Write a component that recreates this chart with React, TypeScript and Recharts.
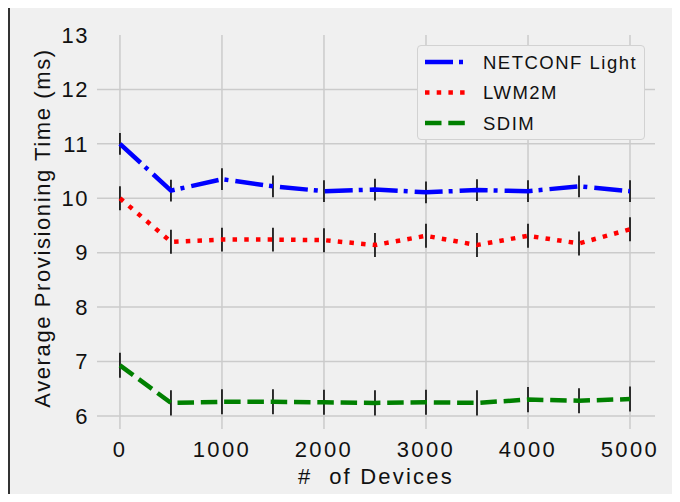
import { LineChart, Line, XAxis, YAxis, CartesianGrid, ErrorBar } from 'recharts'

const devices = [0, 500, 1000, 1500, 2000, 2500, 3000, 3500, 4000, 4500, 5000]
const netconfLight = [11.0, 10.14, 10.35, 10.22, 10.13, 10.16, 10.11, 10.15, 10.13, 10.22, 10.13]
const netconfErr = [0.2, 0.2, 0.2, 0.2, 0.2, 0.2, 0.2, 0.2, 0.2, 0.2, 0.2]
const lwm2m = [10.0, 9.2, 9.24, 9.24, 9.23, 9.14, 9.31, 9.14, 9.31, 9.17, 9.43]
const lwm2mErr = [0.22, 0.22, 0.22, 0.22, 0.22, 0.22, 0.22, 0.22, 0.22, 0.22, 0.22]
const sdim = [6.93, 6.24, 6.26, 6.26, 6.25, 6.24, 6.25, 6.24, 6.3, 6.28, 6.31]
const sdimErr = [0.23, 0.23, 0.23, 0.23, 0.23, 0.23, 0.23, 0.23, 0.23, 0.23, 0.23]

const xTicks = [0, 1000, 2000, 3000, 4000, 5000]
const yTicks = [6, 7, 8, 9, 10, 11, 12, 13]

const series = [
  { key: 'netconf', name: 'NETCONF Light', color: '#0000ff', dash: '28 6 4 7', err: 'netconfErr' },
  { key: 'lwm2m', name: 'LWM2M', color: '#ff0000', dash: '4.5 7.2', err: 'lwm2mErr' },
  { key: 'sdim', name: 'SDIM', color: '#008000', dash: '16.5 6.8', err: 'sdimErr' },
]

const FONT = '"Liberation Sans", Arial, sans-serif'

const data = devices.map((d, i) => ({
  devices: d,
  netconf: netconfLight[i],
  netconfErr: netconfErr[i],
  lwm2m: lwm2m[i],
  lwm2mErr: lwm2mErr[i],
  sdim: sdim[i],
  sdimErr: sdimErr[i],
}))

// legend drawn by hand (absolute overlay) so it doesn't eat plot space
function LegendBox() {
  return (
    <div
      style={{
        position: 'absolute',
        left: 417,
        top: 45,
        width: 228,
        height: 95,
        boxSizing: 'border-box',
        border: '1px solid #d2d2d2',
        borderRadius: 4,
        background: '#f0f0f0',
        fontFamily: FONT,
      }}
    >
      <svg width={226} height={93} style={{ display: 'block' }}>
        {series.map((s, i) => {
          const cy = 16 + i * 30.5
          return (
            <g key={s.key}>
              <line x1={7} x2={47} y1={cy} y2={cy} stroke={s.color} strokeWidth={4.5} strokeDasharray={s.dash} />
              <text x={65} y={cy} dominantBaseline="central" fontSize={18.5} letterSpacing={1.5} fill="#111">
                {s.name}
              </text>
            </g>
          )
        })}
      </svg>
    </div>
  )
}

export default function App() {
  return (
    <div style={{ position: 'relative', margin: -8, width: 680, height: 502, background: '#f0f0f0', overflow: 'hidden' }}>
      <div style={{ position: 'absolute', left: 8, top: 0, width: 1.5, height: 502, background: '#333' }} />
      <LineChart
        width={680}
        height={502}
        data={data}
        margin={{ top: 35, right: 25, bottom: 0, left: 0 }}
        style={{ fontFamily: FONT }}
      >
        <CartesianGrid
          stroke="#cbcbcb"
          strokeWidth={1.5}
          horizontalValues={[6, 7, 8, 9, 10, 11, 12]}
          verticalValues={xTicks}
        />
        <XAxis
          dataKey="devices"
          type="number"
          domain={[-225, 5245]}
          ticks={xTicks}
          allowDataOverflow
          height={73}
          axisLine={false}
          tickLine={false}
          tickSize={0}
          tickMargin={12}
          tick={{ fontSize: 22, fill: '#111', letterSpacing: 2.4 }}
          label={{
            value: '#\u00a0 of Devices',
            position: 'insideBottom',
            offset: 18,
            fontSize: 22,
            fill: '#111',
            letterSpacing: 2.2,
          }}
        />
        <YAxis
          type="number"
          domain={[5.76, 13]}
          ticks={yTicks}
          allowDataOverflow
          width={97}
          axisLine={false}
          tickLine={false}
          tickSize={0}
          tickMargin={8}
          tick={{ fontSize: 22, fill: '#111', letterSpacing: 1.5 }}
          label={{
            content: () => (
              <text
                x={42}
                y={228}
                transform="rotate(-90 42 228)"
                textAnchor="middle"
                dominantBaseline="central"
                fontSize={22}
                letterSpacing={1.6}
                fill="#111"
                fontFamily={FONT}
              >
                Average Provisioning Time (ms)
              </text>
            ),
          }}
        />
        {series.map((s) => (
          <Line
            key={s.key}
            dataKey={s.key}
            name={s.name}
            stroke={s.color}
            strokeWidth={4.5}
            strokeDasharray={s.dash}
            strokeLinecap="butt"
            dot={false}
            activeDot={false}
            isAnimationActive={false}
          >
            <ErrorBar dataKey={s.err} direction="y" width={0} stroke="#1a1a1a" strokeWidth={1.8} />
          </Line>
        ))}
      </LineChart>
      <LegendBox />
    </div>
  )
}
